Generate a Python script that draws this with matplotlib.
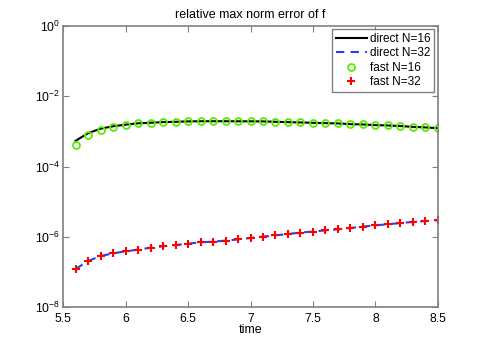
import numpy as np
import matplotlib
matplotlib.use('Agg')
import matplotlib.pyplot as plt

plt.rcParams['font.family'] = ['Liberation Sans', 'DejaVu Sans']
plt.rcParams['mathtext.fontset'] = 'custom'
plt.rcParams['mathtext.rm'] = 'Liberation Sans'
plt.rcParams['mathtext.it'] = 'Liberation Sans'

# time samples
t = [5.6, 5.7, 5.8, 5.9, 6.0, 6.1, 6.2, 6.3, 6.4, 6.5,
     6.6, 6.7, 6.8, 6.9, 7.0, 7.1, 7.2, 7.3, 7.4, 7.5,
     7.6, 7.7, 7.8, 7.9, 8.0, 8.1, 8.2, 8.3, 8.4, 8.5]

# errors
direct16 = [5.4e-4, 8.9e-4, 1.20e-3, 1.40e-3, 1.56e-3, 1.70e-3, 1.77e-3, 1.84e-3, 1.88e-3, 1.93e-3,
            1.95e-3, 1.95e-3, 1.95e-3, 1.94e-3, 1.94e-3, 1.93e-3, 1.88e-3, 1.84e-3, 1.80e-3, 1.76e-3,
            1.72e-3, 1.69e-3, 1.61e-3, 1.58e-3, 1.51e-3, 1.48e-3, 1.42e-3, 1.35e-3, 1.30e-3, 1.24e-3]
fast16 = [4.15e-4, 7.85e-4, 1.11e-3, 1.35e-3, 1.54e-3, 1.69e-3, 1.76e-3, 1.84e-3, 1.88e-3, 1.93e-3,
          1.95e-3, 1.95e-3, 1.95e-3, 1.94e-3, 1.94e-3, 1.93e-3, 1.88e-3, 1.84e-3, 1.80e-3, 1.76e-3,
          1.72e-3, 1.69e-3, 1.61e-3, 1.58e-3, 1.51e-3, 1.48e-3, 1.42e-3, 1.35e-3, 1.30e-3, 1.24e-3]
direct32 = [1.22e-7, 2.06e-7, 2.86e-7, 3.41e-7, 3.89e-7, 4.35e-7, 4.95e-7, 5.40e-7, 5.87e-7, 6.44e-7,
            7.01e-7, 7.35e-7, 7.85e-7, 8.50e-7, 9.31e-7, 1.02e-6, 1.11e-6, 1.21e-6, 1.33e-6, 1.42e-6,
            1.54e-6, 1.65e-6, 1.79e-6, 1.97e-6, 2.14e-6, 2.29e-6, 2.49e-6, 2.66e-6, 2.84e-6, 2.97e-6]
fast32 = [1.22e-7, 2.06e-7, 2.86e-7, 3.41e-7, 3.89e-7, 4.35e-7, 4.95e-7, 5.40e-7, 5.87e-7, 6.44e-7,
          7.01e-7, 7.35e-7, 7.85e-7, 8.50e-7, 9.31e-7, 1.02e-6, 1.11e-6, 1.21e-6, 1.33e-6, 1.42e-6,
          1.54e-6, 1.65e-6, 1.79e-6, 1.97e-6, 2.14e-6, 2.29e-6, 2.49e-6, 2.66e-6, 2.84e-6, 2.97e-6]

fig = plt.figure(figsize=(4.85, 3.46), dpi=100)
ax = fig.add_axes([0.13, 0.112, 0.773, 0.813])

ax.semilogy(t, direct16, '-', color='black', lw=1.5, label='direct N=16')
ax.semilogy(t, direct32, '--', color='#2040ff', lw=1.5, dashes=(4, 3), label='direct N=32')
ax.semilogy(t, fast16, 'o', color='#55ee00', mfc='none', mec='#55ee00', ms=5, mew=1.3, label='fast N=16')
ax.semilogy(t, fast32, '+', color='red', ms=6, mew=1.5, label='fast N=32')

ax.set_xlim(5.5, 8.5)
ax.set_ylim(1e-8, 1)
ax.set_xticks([5.5, 6, 6.5, 7, 7.5, 8, 8.5])
ax.set_xticklabels(['5.5', '6', '6.5', '7', '7.5', '8', '8.5'])
ax.set_yticks([1e-8, 1e-6, 1e-4, 1e-2, 1])
ax.yaxis.set_minor_locator(matplotlib.ticker.NullLocator())

for s in ax.spines.values():
    s.set_color('#808080')
    s.set_linewidth(1.2)
ax.tick_params(direction='in', top=True, right=True, length=4, color='#808080',
               labelsize=8.8, labelcolor='black')
ax.tick_params(axis='x', pad=4.5)
ax.tick_params(axis='y', pad=2)

ax.set_title('relative max norm error of f', fontsize=9, pad=6)
ax.set_xlabel('time', fontsize=9, labelpad=-1)

leg = ax.legend(loc='upper right', fontsize=8.5, frameon=True, fancybox=False,
                edgecolor='#606060', handlelength=2.6, handletextpad=0.3,
                labelspacing=0.2, borderpad=0.3, borderaxespad=0.3)
leg.get_frame().set_linewidth(1.0)

fig.savefig('out.png', dpi=100)
